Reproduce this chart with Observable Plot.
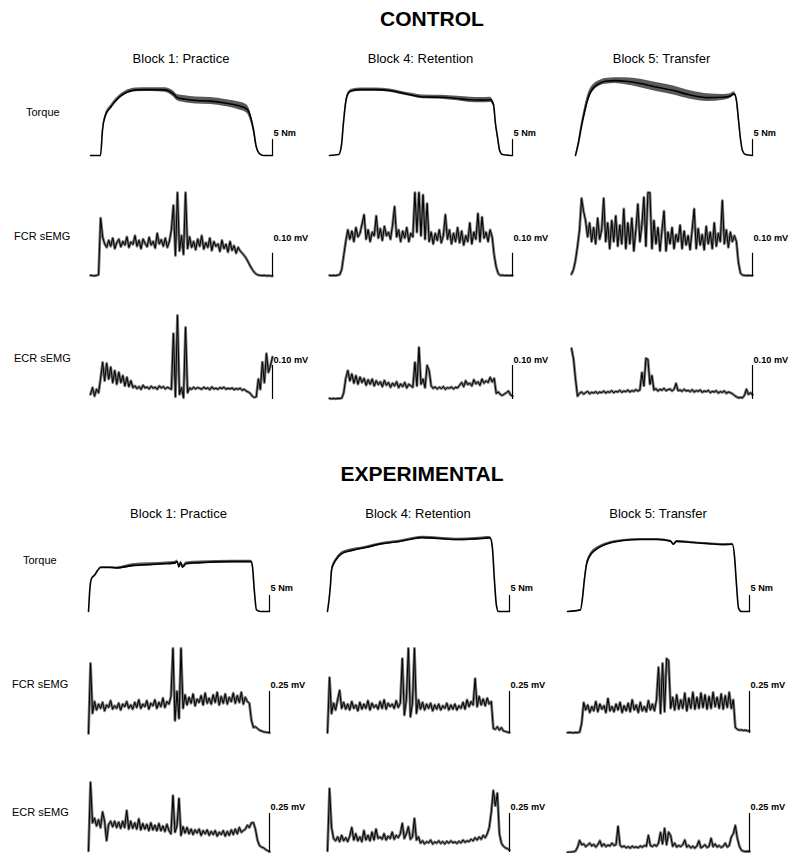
<!DOCTYPE html>
<html><head><meta charset="utf-8">
<script src="https://cdn.jsdelivr.net/npm/d3@7"></script>
<script src="https://cdn.jsdelivr.net/npm/@observablehq/plot@0.6"></script>
<style>
body{margin:0;background:#fff;font-family:"Liberation Sans",Arial,sans-serif;}
#page{position:relative;width:789px;height:853px;overflow:hidden;background:#fff}
.lbl{position:absolute;white-space:nowrap;color:#000;line-height:1}
.panel{position:absolute}
.panel svg{overflow:visible;background:transparent;max-width:none !important;display:block}
</style></head><body><div id="page"></div>
<script>
// ---------- text ----------
const groupTitles = ["CONTROL", "EXPERIMENTAL"];
const blockTitles = ["Block 1: Practice", "Block 4: Retention", "Block 5: Transfer"];
const rowTitles = ["Torque", "FCR sEMG", "ECR sEMG"];
const scaleTextControl = ["5 Nm", "0.10 mV", "0.10 mV"];
const scaleTextExp = ["5 Nm", "0.25 mV", "0.25 mV"];
// scale bar sizes (Torque in Nm, sEMG in µV)
const scaleValControl = [5, 100, 100];
const scaleValExp = [5, 250, 250];

// ---------- CONTROL torque (t = % of trial, mean Nm, SD Nm) ----------
const cTq1_t  = [0,5.5,6.6,8.2,11,15.4,19,25,33,41,45,48,52,58,66,74,81,86,88,89.6,91,93,95,100];
const cTq1_m  = [0,0,8,12.5,15,18,19.5,20.5,20.6,20.5,19.5,18,17.6,17.2,17,16.4,15.6,14.5,12,8,3,0.5,0,0];
const cTq1_sd = [0,0,0.4,0.5,0.6,0.6,0.6,0.6,0.6,0.7,0.9,1.0,1.1,1.1,1.1,1.1,1.2,1.3,1.3,1.0,0.6,0.2,0,0];
const cTq2_t  = [0,5,6.5,7.6,8.7,10.4,12.6,17,25,33,39,44,51,61,70,77,82.5,88,89.6,90.7,92,93,94.5,100];
const cTq2_m  = [0,0.3,3,10,16,19.5,20.3,20.6,20.6,20.3,19.6,19.0,18.3,18.2,17.8,17.4,17.3,17.4,16,10,5,1.5,0.3,0];
const cTq2_sd = [0,0,0.2,0.3,0.4,0.5,0.5,0.5,0.5,0.5,0.5,0.5,0.6,0.6,0.7,0.8,0.8,0.8,0.6,0.4,0.3,0.1,0,0];
const cTq3_t  = [2.2,3.9,5.5,7.2,8.8,10.5,12.7,14.9,18.8,24.3,29.8,38.1,47.5,56.4,65.7,75.1,84,87.8,90,91.2,92.3,93.4,94.5,96.1,100];
const cTq3_m  = [0,4,9,13.5,17.2,19.8,21.5,22.4,23.2,23.4,23.2,22.5,21.3,20.3,18.9,18.1,18.2,18.6,19.3,17,11,5,1.5,0.3,0];
const cTq3_sd = [0,0.8,1.2,1.4,1.4,1.2,1.0,0.9,0.9,0.9,1.1,1.3,1.4,1.4,1.3,1.2,0.9,0.7,0.6,0.5,0.4,0.3,0.1,0,0];

// ---------- CONTROL sEMG (µV, evenly spaced samples) ----------
const cFcr1 = [5,4,3,5,8,250,170,140,125,155,130,165,120,145,160,128,150,135,170,125,148,138,175,130,155,120,160,142,128,168,135,150,122,185,140,158,130,165,125,150,200,305,90,360,110,175,95,360,120,170,125,150,115,160,130,175,118,145,125,165,112,150,130,140,108,155,120,138,105,150,112,132,100,125,110,100,90,78,62,45,30,18,10,6,5,4,5,3,4,3,2];
const cFcr2 = [5,4,5,4,6,8,30,90,150,200,160,195,150,210,170,185,225,265,160,200,150,190,175,260,165,205,155,215,175,190,160,220,300,170,200,150,195,165,210,150,185,170,360,190,360,175,350,160,313,150,190,140,185,155,200,145,175,265,160,200,140,185,150,210,145,195,135,175,150,230,140,190,160,270,150,255,165,190,150,200,170,90,40,12,5,6,4,5,4,5,4];
const cFcr3 = [10,30,70,130,200,335,280,240,170,230,150,210,140,250,160,200,335,150,230,120,240,150,260,130,220,140,290,120,230,140,250,110,200,310,150,220,340,130,360,360,120,240,140,210,110,200,280,110,190,140,210,120,180,150,220,120,195,135,175,115,200,290,120,205,135,180,115,215,140,190,120,230,130,185,150,326,140,200,125,190,150,175,150,60,15,6,5,4,5,4,4];
const cEcr1 = [15,35,10,30,20,62,109,55,106,60,95,50,85,45,80,50,70,40,65,38,55,35,40,32,38,30,42,34,37,31,39,33,36,30,40,34,38,31,36,33,30,194,8,247,15,35,5,212,20,34,30,36,31,35,33,30,36,32,34,29,37,31,33,30,35,32,36,30,33,31,34,29,32,30,33,27,30,25,22,18,10,6,8,60,30,110,50,135,80,100,125];
const cEcr2 = [3,2,3,2,3,3,4,20,62,85,55,75,48,70,45,66,50,62,42,58,45,60,40,55,44,52,38,56,42,50,36,48,40,52,35,46,38,50,34,45,40,36,109,40,153,45,60,35,100,85,40,33,37,31,36,32,38,30,35,33,37,31,36,34,42,50,38,55,44,48,40,58,46,52,42,60,48,55,50,65,52,62,18,22,15,12,16,20,25,14,10];
const cEcr3 = [150,120,60,10,18,22,16,20,24,17,21,19,23,18,22,20,25,19,23,21,26,20,24,22,27,21,25,23,28,22,26,24,29,25,28,79,40,121,118,45,70,28,32,25,30,27,33,26,29,31,25,30,47,26,28,24,30,25,27,23,29,22,26,24,28,21,25,23,27,20,24,22,26,19,23,21,25,18,22,20,17,12,8,5,6,5,12,30,15,20,14];

// ---------- EXPERIMENTAL torque ----------
const eTq1_t  = [0,0.5,1.1,1.7,3.3,5,6.7,11.7,15.5,24.4,34,43,48,49,50,51,52,54,62,80,90,90.6,91.7,92.8,95,100];
const eTq1_m  = [0,5,9,10.3,11.3,12.8,13.8,13.8,13.6,14.4,14.7,15,15.2,15.6,14,15.3,13.9,15,15.3,15.6,15.6,14,6,0.5,0,0];
const eTq1_sd = [0,0,0,0.1,0.1,0.1,0.1,0.1,0.3,0.5,0.5,0.5,0.5,0.5,0.5,0.5,0.5,0.5,0.5,0.4,0.4,0.3,0.1,0,0,0];
const eTq2_t  = [0,1.1,1.7,2.2,3.3,4.4,7.8,13.3,21,30,39.4,45,52,61.7,71,81,89.4,90.6,91.7,92.8,93.9,100];
const eTq2_m  = [0,5,8.8,12.8,14.8,15.9,18.1,19.1,20,21.2,21.9,22.5,23.1,22.8,22.5,22.7,23.0,20,10,2,0,0];
const eTq2_sd = [0,0.2,0.3,0.4,0.5,0.5,0.5,0.5,0.4,0.4,0.4,0.4,0.4,0.4,0.4,0.4,0.4,0.3,0.2,0.1,0,0];
const eTq3_t  = [0,7.1,8.2,9.3,10.4,11.5,13.2,16.5,22,30.8,40,49.5,56.6,58.2,59.9,67.6,77,85.7,90.7,91.8,92.9,94,95.6,100];
const eTq3_m  = [0,0.5,4,10,14.5,16.5,18.1,19.7,21.2,22.2,22.5,22.5,22.0,21.0,21.9,21.6,21.2,20.9,21.0,17,8,1,0,0];
const eTq3_sd = [0,0,0.2,0.4,0.6,0.6,0.6,0.5,0.4,0.3,0.3,0.3,0.3,0.3,0.3,0.3,0.3,0.3,0.3,0.2,0.1,0,0,0];

// ---------- EXPERIMENTAL sEMG (µV) ----------
const eFcr1 = [0,417,120,190,140,175,150,185,135,170,155,195,145,165,150,180,140,175,160,190,150,170,145,185,155,200,150,175,160,195,145,180,165,200,150,185,160,210,155,190,175,220,506,77,250,90,506,150,230,170,215,180,235,165,205,185,225,170,240,180,210,175,230,185,245,170,220,180,235,175,215,190,240,180,225,185,245,175,215,190,180,80,36,40,30,20,15,10,8,6,4];
const eFcr2 = [5,333,119,180,140,200,256,150,185,145,175,140,190,150,170,135,185,145,175,150,195,140,180,155,170,145,190,150,200,145,180,160,175,150,195,155,180,446,110,200,506,100,180,506,120,200,145,185,140,175,150,180,135,170,145,175,140,165,150,180,140,170,145,175,140,165,150,185,145,200,160,190,170,327,160,220,170,205,165,210,175,190,30,25,40,20,35,15,12,8,5];
const eFcr3 = [5,6,5,4,6,5,8,60,184,140,170,125,160,135,190,130,175,145,165,125,208,135,160,130,175,140,185,125,165,135,180,130,200,140,170,125,185,135,160,130,195,140,175,135,200,393,120,417,130,446,434,150,215,140,230,145,200,150,240,135,210,150,244,145,215,150,240,155,230,145,220,150,244,160,215,150,235,145,225,155,244,150,200,36,25,20,22,18,20,16,15];
const eEcr1 = [10,449,190,220,170,210,160,260,200,77,180,200,165,200,160,195,155,200,160,269,150,200,155,190,150,215,145,185,150,180,140,190,145,175,140,185,140,170,135,180,140,120,365,130,170,346,110,165,125,160,120,150,115,145,125,150,110,140,120,145,110,135,115,140,105,130,115,140,105,135,110,145,115,150,120,160,130,140,150,175,160,190,192,150,80,45,35,30,20,12,5];
const eEcr2 = [10,410,160,90,75,100,70,110,75,95,70,105,160,80,120,75,100,70,140,80,110,75,130,80,150,90,100,85,120,80,105,90,130,85,110,95,120,186,90,120,165,85,100,218,80,100,60,75,55,70,62,80,55,68,60,75,58,70,55,72,60,75,62,68,58,72,62,80,65,75,70,85,75,95,80,100,85,110,95,120,160,260,397,300,380,120,60,40,30,25,15];
const eEcr3 = [0,2,3,5,10,35,77,50,55,38,48,60,42,52,35,50,75,40,55,38,48,42,60,45,50,167,45,35,42,30,38,28,40,32,36,30,42,34,45,40,109,45,38,50,40,60,128,55,154,50,130,109,40,60,35,45,38,50,80,35,45,30,40,28,42,75,30,38,50,32,40,90,38,55,35,45,32,40,60,35,45,100,120,173,90,40,15,8,6,8,6];

// ---------- layout (page pixels) ----------
const FONT = '"Liberation Sans", Arial, sans-serif';
const layout = [
  { titleY: 18, colTitleY: 58,
    cols: [[90,272],[329,512],[571,752]],
    rows: [ {top:78, bottom:160, base:155, ppu:3.2, labelY:112, labelX:26, dy:-6},
            {top:185, bottom:282, base:276, ppu:0.233, labelY:236, labelX:14, dy:-15},
            {top:305, bottom:405, base:399, ppu:0.34, labelY:358, labelX:14, dy:-5} ] },
  { titleY: 473, colTitleY: 513,
    cols: [[88,269],[327,509],[567,749]],
    rows: [ {top:528, bottom:615, base:611, ppu:3.2, labelY:560, labelX:23, dy:-7},
            {top:640, bottom:738, base:733, ppu:0.168, labelY:684, labelX:12, dy:-6},
            {top:768, bottom:853, base:852, ppu:0.156, labelY:812, labelX:12, dy:-6} ] }
];
const titleX = [432, 422];

const torque = [
  [[cTq1_t,cTq1_m,cTq1_sd],[cTq2_t,cTq2_m,cTq2_sd],[cTq3_t,cTq3_m,cTq3_sd]],
  [[eTq1_t,eTq1_m,eTq1_sd],[eTq2_t,eTq2_m,eTq2_sd],[eTq3_t,eTq3_m,eTq3_sd]]
];
const emg = [
  [[cFcr1,cFcr2,cFcr3],[cEcr1,cEcr2,cEcr3]],
  [[eFcr1,eFcr2,eFcr3],[eEcr1,eEcr2,eEcr3]]
];
const scaleText = [scaleTextControl, scaleTextExp];
const scaleVal = [scaleValControl, scaleValExp];

const page = document.getElementById("page");
function addLabel(text, x, y, size, weight, anchor) {
  const d = document.createElement("div");
  d.className = "lbl";
  d.textContent = text;
  d.style.left = x + "px";
  d.style.top = y + "px";
  d.style.fontSize = size + "px";
  d.style.fontWeight = weight;
  d.style.transform = anchor === "middle" ? "translate(-50%,-50%)" : "translate(0,-50%)";
  page.appendChild(d);
}

const ML = 3, MR = 50;
layout.forEach((g, gi) => {
  addLabel(groupTitles[gi], titleX[gi], g.titleY, 21, "bold", "middle");
  g.cols.forEach(([x0, x1], ci) => {
    addLabel(blockTitles[ci], (x0 + x1) / 2, g.colTitleY, 13, "normal", "middle");
  });
  g.rows.forEach((r, ri) => {
    addLabel(rowTitles[ri], r.labelX, r.labelY, 11, "normal", "start");
    g.cols.forEach(([x0, x1], ci) => {
      const H = r.bottom - r.top;
      const yDomain = [-(r.bottom - r.base) / r.ppu, (r.base - r.top) / r.ppu];
      let marks, xDomain, xEnd;
      if (ri === 0) {
        const [t, m, sd] = torque[gi][ci];
        const rows = t.map((tt, i) => ({t: tt, m: m[i], lo: m[i] - sd[i], hi: m[i] + sd[i]}));
        xDomain = [0, 100]; xEnd = 100;
        marks = [
          Plot.areaY(rows, {x: "t", y1: "lo", y2: "hi", fill: "#5a5a5a", curve: "monotone-x"}),
          Plot.line(rows, {x: "t", y: "m", stroke: "#000", strokeWidth: 1.6, curve: "monotone-x"})
        ];
      } else {
        const v = emg[gi][ri - 1][ci];
        const rows = v.map((vv, i) => ({i, v: vv}));
        xDomain = [0, v.length - 1]; xEnd = v.length - 1;
        marks = [
          Plot.line(rows, {x: "i", y: "v", stroke: "#7a7a7a", strokeWidth: 2.8, strokeLinejoin: "round"}),
          Plot.line(rows, {x: "i", y: "v", stroke: "#000", strokeWidth: 1})
        ];
      }
      marks.push(
        Plot.ruleX([xEnd], {y1: 0, y2: scaleVal[gi][ri], stroke: "#000", strokeWidth: 1.2}),
        Plot.text([scaleText[gi][ri]], {x: xEnd, y: scaleVal[gi][ri], text: d => d, textAnchor: "start",
          dx: 1, dy: r.dy, fontSize: 9.2, fontWeight: "bold", fontFamily: FONT, fill: "#000"})
      );
      const w = ML + (x1 - x0) + MR;
      const svg = Plot.plot({
        width: w, height: H,
        marginLeft: ML, marginRight: MR, marginTop: 0, marginBottom: 0,
        x: {domain: xDomain, axis: null},
        y: {domain: yDomain, axis: null},
        style: {background: "transparent", fontFamily: FONT, maxWidth: "none"},
        marks
      });
      const holder = document.createElement("div");
      holder.className = "panel";
      holder.style.left = (x0 - ML) + "px";
      holder.style.top = r.top + "px";
      holder.style.width = w + "px";
      holder.style.height = H + "px";
      holder.appendChild(svg);
      page.appendChild(holder);
    });
  });
});
</script></body></html>
